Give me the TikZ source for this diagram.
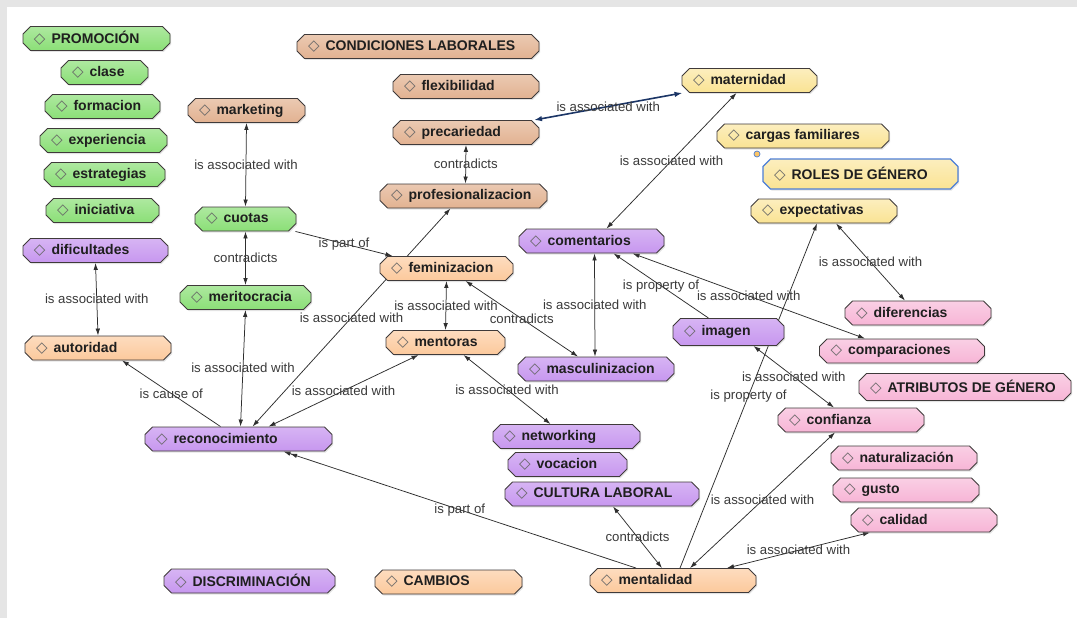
\documentclass[tikz,border=0pt]{standalone}
\usepackage{fontspec}
\setmainfont{Liberation Sans}
\newfontfamily\djv{DejaVu Sans}
\usetikzlibrary{shapes.misc,shadows,backgrounds,arrows.meta}
\definecolor{cgreen}{HTML}{8BDF77}
\definecolor{ctan}{HTML}{E2B291}
\definecolor{corange}{HTML}{FCC99C}
\definecolor{cyellow}{HTML}{FAE393}
\definecolor{cpurple}{HTML}{C797EF}
\definecolor{cpink}{HTML}{F7B5D6}
\definecolor{cborder}{HTML}{3F3A3A}
\definecolor{cline}{HTML}{2E2E2E}
\definecolor{clab}{HTML}{3A3A3A}
\definecolor{cnavy}{HTML}{1B3566}
\definecolor{cbg}{HTML}{E5E5E5}
\definecolor{cblue}{HTML}{4D7FD6}
\newcommand{\cn}[2]{\makebox[\dimexpr#1pt-22pt\relax][l]{\textcolor{black!60}{\djv\fontsize{15}{16}\fontseries{m}\selectfont ◇}\hspace{6pt}#2}}
\tikzset{
  cnode/.style={chamfered rectangle, chamfered rectangle xsep=4pt,
    draw=cborder, line width=0.9pt, minimum height=24pt,
    inner xsep=2pt, inner ysep=1pt,
    font=\fontsize{14}{16}\selectfont\bfseries, text=black!88,
    drop shadow={shadow xshift=1.2pt, shadow yshift=-1.5pt, opacity=0.22}},
  nw/.style={minimum width=#1pt},
  fgreen/.style={top color=cgreen!70!white, bottom color=cgreen},
  ftan/.style={top color=ctan!70!white, bottom color=ctan},
  forange/.style={top color=corange!65!white, bottom color=corange},
  fyellow/.style={top color=cyellow!60!white, bottom color=cyellow},
  fpurple/.style={top color=cpurple!72!white, bottom color=cpurple},
  fpink/.style={top color=cpink!65!white, bottom color=cpink},
  ed/.style={draw=cline, line width=0.75pt},
  bi/.style={ed, {Latex[length=7pt,width=4.5pt]}-{Latex[length=7pt,width=4.5pt]}},
  uni/.style={ed, -{Latex[length=7pt,width=4.5pt]}},
  nav/.style={draw=cnavy, line width=1.6pt, {Latex[length=8pt,width=5.5pt]}-{Latex[length=8pt,width=5.5pt]}},
  lab/.style={font=\fontsize{13.2}{15}\selectfont, text=clab, inner sep=1pt},
}
\begin{document}
\begin{tikzpicture}[x=1pt,y=-1pt]
\useasboundingbox (0,0) rectangle (1077,618);
\begin{scope}[on background layer]
\fill[cbg] (0,0) rectangle (1077,618);
\fill[white] (7,7) rectangle (1077,618);
\end{scope}
% green
\node[cnode,fgreen,nw=147] (prom) at (96.5,38.5) {\cn{147}{PROMOCIÓN}};
\node[cnode,fgreen,nw=87] (clas) at (104.5,72.5) {\cn{87}{clase}};
\node[cnode,fgreen,nw=115] (form) at (102.5,106.5) {\cn{115}{formacion}};
\node[cnode,fgreen,nw=127] (expr) at (103.5,140.5) {\cn{127}{experiencia}};
\node[cnode,fgreen,nw=121] (estr) at (104.5,174.5) {\cn{121}{estrategias}};
\node[cnode,fgreen,nw=113] (inic) at (102.5,210.5) {\cn{113}{iniciativa}};
\node[cnode,fgreen,nw=101] (cuot) at (245.5,219) {\cn{101}{cuotas}};
\node[cnode,fgreen,nw=131] (meri) at (245.5,297.5) {\cn{131}{meritocracia}};
% tan
\node[cnode,ftan,nw=117] (mark) at (246.5,110.5) {\cn{117}{marketing}};
\node[cnode,ftan,nw=242] (cond) at (418,46.5) {\cn{242}{CONDICIONES LABORALES}};
\node[cnode,ftan,nw=146] (flex) at (466,86.5) {\cn{146}{flexibilidad}};
\node[cnode,ftan,nw=146] (prec) at (466,132.5) {\cn{146}{precariedad}};
\node[cnode,ftan,nw=167] (prof) at (463.5,196) {\cn{167}{profesionalizacion}};
% orange
\node[cnode,forange,nw=146] (auto) at (98,348) {\cn{146}{autoridad}};
\node[cnode,forange,nw=133] (femi) at (446.5,268.5) {\cn{133}{feminizacion}};
\node[cnode,forange,nw=119] (ment) at (445.5,342.5) {\cn{119}{mentoras}};
\node[cnode,forange,nw=166] (mtal) at (673,580.5) {\cn{166}{mentalidad}};
\node[cnode,forange,nw=147] (camb) at (448.5,582) {\cn{147}{CAMBIOS}};
% yellow
\node[cnode,fyellow,nw=135] (mate) at (749.5,80.5) {\cn{135}{maternidad}};
\node[cnode,fyellow,nw=172] (carg) at (803,136) {\cn{172}{cargas familiares}};
\node[cnode,fyellow,nw=195,minimum height=30pt,draw=cblue,line width=1.1pt] (role) at (860.5,174) {\cn{195}{ROLES DE GÉNERO}};
\node[cnode,fyellow,nw=146] (expe) at (824,211) {\cn{146}{expectativas}};
\node[circle,draw=cblue,fill=cyellow!70!orange,inner sep=0pt,minimum size=6pt,line width=0.7pt] (dot) at (757,154) {};
% purple
\node[cnode,fpurple,nw=145] (difi) at (95.5,250.5) {\cn{145}{dificultades}};
\node[cnode,fpurple,nw=187] (reco) at (238.5,439) {\cn{187}{reconocimiento}};
\node[cnode,fpurple,nw=145] (come) at (591.5,241) {\cn{145}{comentarios}};
\node[cnode,fpurple,nw=156] (masc) at (596,369) {\cn{156}{masculinizacion}};
\node[cnode,fpurple,nw=111,minimum height=27pt] (imag) at (728.5,332) {\cn{111}{imagen}};
\node[cnode,fpurple,nw=147] (netw) at (566.5,436.5) {\cn{147}{networking}};
\node[cnode,fpurple,nw=119] (voca) at (567.5,464.5) {\cn{119}{vocacion}};
\node[cnode,fpurple,nw=194] (cult) at (602,494) {\cn{194}{CULTURA LABORAL}};
\node[cnode,fpurple,nw=171] (disc) at (249.5,581) {\cn{171}{DISCRIMINACIÓN}};
% pink
\node[cnode,fpink,nw=146] (dife) at (918,313) {\cn{146}{diferencias}};
\node[cnode,fpink,nw=165] (comp) at (902,351) {\cn{165}{comparaciones}};
\node[cnode,fpink,nw=212,minimum height=27pt] (atri) at (965,387) {\cn{212}{ATRIBUTOS DE GÉNERO}};
\node[cnode,fpink,nw=146] (conf) at (851,420) {\cn{146}{confianza}};
\node[cnode,fpink,nw=146] (natu) at (904,458) {\cn{146}{naturalización}};
\node[cnode,fpink,nw=146] (gust) at (906,490) {\cn{146}{gusto}};
\node[cnode,fpink,nw=146] (cali) at (924,520) {\cn{146}{calidad}};
% connectors
\begin{scope}[on background layer]
\draw[bi] (mark.south) -- node[lab]{is associated with} (cuot.north);
\draw[bi] (cuot.south) -- node[lab]{contradicts} (meri.north);
\draw[bi] (difi.south) -- node[lab]{is associated with} (auto.north);
\draw[uni] ([xshift=-18pt]reco.north) -- node[lab]{is cause of} ([xshift=24pt]auto.south);
\draw[bi] ([xshift=2pt]reco.north) -- node[lab]{is associated with} (meri.south);
\draw[bi] ([xshift=14pt]reco.north) -- node[lab]{is associated with} ([xshift=-13pt]prof.south);
\draw[bi] ([xshift=30pt]reco.north) -- node[lab]{is associated with} ([xshift=-27pt]ment.south);
\draw[uni] ([xshift=50pt]cuot.south) -- node[lab]{is part of} ([xshift=-54pt]femi.north);
\draw[bi] (femi.south) -- node[lab]{is associated with} (ment.north);
\draw[bi] ([xshift=19pt]femi.south) -- node[lab]{contradicts} ([xshift=-18pt]masc.north);
\draw[bi] ([xshift=3pt]come.south) -- node[lab]{is associated with} ([xshift=-1pt]masc.north);
\draw[bi] ([xshift=18pt]ment.south) -- node[lab]{is associated with} ([xshift=-16pt]netw.north);
\draw[bi] (prec.south) -- node[lab]{contradicts} ([xshift=2pt]prof.north);
\draw[nav] ([xshift=68pt]prec.north) -- node[lab]{is associated with} ([xshift=-67pt]mate.south);
\draw[bi] ([xshift=15pt]come.north) -- node[lab]{is associated with} ([xshift=-13pt]mate.south);
\draw[uni] ([xshift=-20pt]imag.north) -- node[lab]{is property of} ([xshift=22pt]come.south);
\draw[bi] ([xshift=41pt]come.south) -- node[lab]{is associated with} ([xshift=-37pt]comp.north);
\draw[bi] ([xshift=12pt]expe.south) -- node[lab]{is associated with} ([xshift=-13pt]dife.north);
\draw[uni] ([xshift=7pt]mtal.north) -- node[lab]{is property of} ([xshift=-7pt]expe.south);
\draw[bi] ([xshift=25pt]imag.south) -- node[lab]{is associated with} ([xshift=-17pt]conf.north);
\draw[bi] ([xshift=17pt]mtal.north) -- node[lab]{is associated with} ([xshift=-16pt]conf.south);
\draw[bi] ([xshift=54pt]mtal.north) -- node[lab]{is associated with} ([xshift=-54pt]cali.south);
\draw[bi] ([xshift=-11pt]mtal.north) -- node[lab]{contradicts} ([xshift=11pt]cult.south);
\draw[ed,-{Latex[length=7pt,width=4.5pt]Latex[length=7pt,width=4.5pt]}] ([xshift=-37pt]mtal.north) -- node[lab]{is part of} ([xshift=45pt]reco.south);
\end{scope}
\end{tikzpicture}
\end{document}
